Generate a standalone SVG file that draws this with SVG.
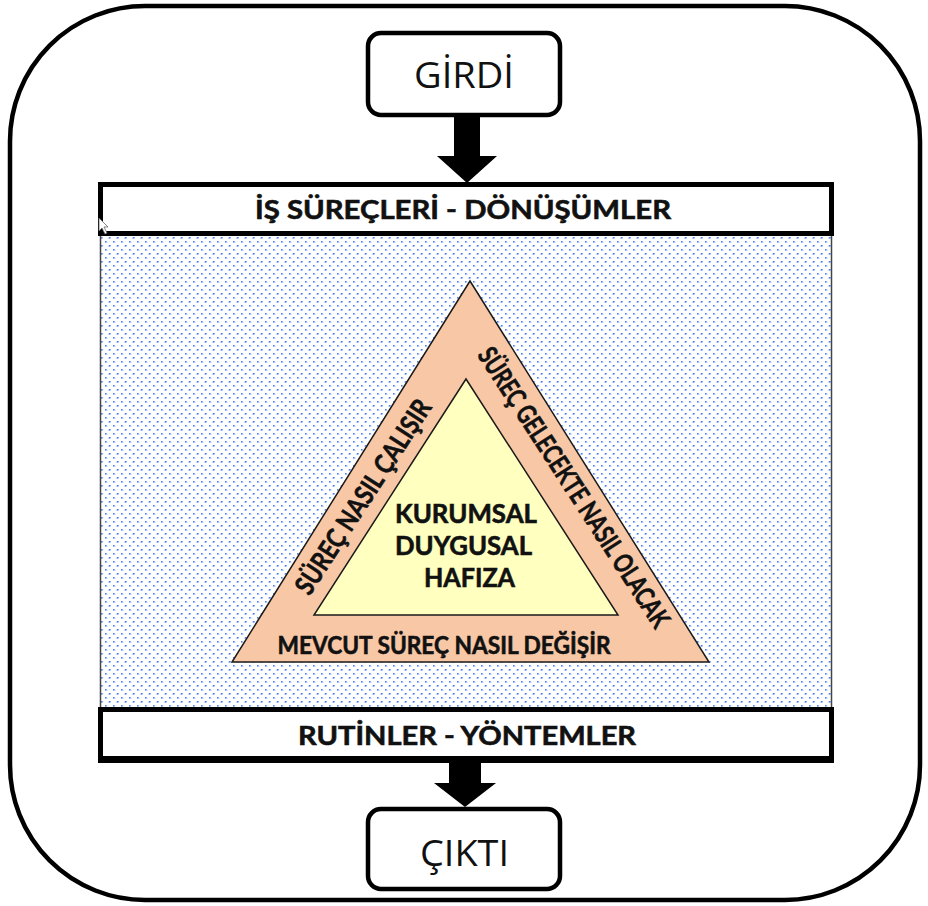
<svg xmlns="http://www.w3.org/2000/svg" width="928" height="906" viewBox="0 0 928 906">
  <style>
    .frame { fill: #ffffff; stroke: #000000; stroke-width: 4.5; }
    .box { fill: #ffffff; stroke: #000000; stroke-width: 4.5; }
    .band { fill: #ffffff; stroke: #000000; stroke-width: 5; }
    .io { font-family: "Open Sans", "Noto Sans", "Liberation Sans", sans-serif; font-size: 36px; fill: #111111; text-anchor: middle; }
    .bold { font-family: Lato, "Open Sans", "Liberation Sans", sans-serif; font-weight: bold; fill: #111111; stroke: #111111; stroke-width: 0.6; }
    .arrow { fill: #000000; }
    .outer { fill: #f8c8a6; stroke: #1a1a1a; stroke-width: 1.5; }
    .inner { fill: #ffffc0; stroke: #1a1a1a; stroke-width: 1.5; }
  </style>
  <defs>
    <pattern id="dots" width="8" height="8" patternUnits="userSpaceOnUse">
      <rect width="8" height="8" fill="#ffffff"/>
      <rect x="1" y="1" width="1.6" height="1.6" fill="#4a80f0"/>
      <rect x="2.6" y="1.6" width="1" height="1" fill="#a2c0f7"/>
      <rect x="5" y="5" width="1.6" height="1.6" fill="#4a80f0"/>
      <rect x="4" y="5.6" width="1" height="1" fill="#a2c0f7"/>
    </pattern>
  </defs>

  <!-- outer rounded frame -->
  <rect class="frame" x="10" y="6" width="910" height="894" rx="135" ry="135"/>

  <!-- connectors -->
  <g id="connectors">
    <path class="arrow" d="M454,114 H480 V156 H497 L467,183 L437,156 H454 Z"/>
    <path class="arrow" d="M449,760 H481 V783 H496 L465,807 L434,783 H449 Z"/>
  </g>

  <g id="girdi">
    <rect class="box" x="368" y="33" width="192" height="82" rx="13" ry="13"/>
    <text class="io" x="464" y="88" textLength="100" lengthAdjust="spacingAndGlyphs">GİRDİ</text>
  </g>

  <g id="process">
    <!-- dotted work area -->
    <rect x="100.5" y="233.5" width="731" height="476" fill="url(#dots)" stroke="#444444" stroke-width="1.5"/>
    <!-- header band -->
    <rect class="band" x="100.5" y="184.5" width="731" height="49"/>
    <text class="bold" x="463" y="219" font-size="27" text-anchor="middle" textLength="416" lengthAdjust="spacingAndGlyphs">İŞ SÜREÇLERİ - DÖNÜŞÜMLER</text>
  </g>

  <g id="pyramid">
    <polygon class="outer" points="470,281 709,662 232,662"/>
    <polygon class="inner" points="466,379 618,615 314,615"/>
    <text class="bold" x="466" y="523" font-size="26" text-anchor="middle" textLength="142" lengthAdjust="spacingAndGlyphs">KURUMSAL</text>
    <text class="bold" x="463.5" y="555" font-size="26" text-anchor="middle" textLength="137" lengthAdjust="spacingAndGlyphs">DUYGUSAL</text>
    <text class="bold" x="469.5" y="587" font-size="26" text-anchor="middle" textLength="91" lengthAdjust="spacingAndGlyphs">HAFIZA</text>
    <text class="bold" x="444" y="654" font-size="24" text-anchor="middle" textLength="333" lengthAdjust="spacingAndGlyphs">MEVCUT SÜREÇ NASIL DEĞİŞİR</text>
    <text class="bold" font-size="27" text-anchor="middle" textLength="226" lengthAdjust="spacingAndGlyphs" transform="translate(371,502) rotate(-57)">SÜREÇ NASIL ÇALIŞIR</text>
    <text class="bold" font-size="27" text-anchor="middle" textLength="328" lengthAdjust="spacingAndGlyphs" transform="translate(566,492.5) rotate(57)">SÜREÇ GELECEKTE NASIL OLACAK</text>
  </g>

  <g id="routines">
    <rect class="band" x="100.5" y="709.5" width="731" height="49"/>
    <rect x="98" y="758" width="736" height="5" fill="#000000"/>
    <text class="bold" x="467" y="745" font-size="27" text-anchor="middle" textLength="338" lengthAdjust="spacingAndGlyphs">RUTİNLER - YÖNTEMLER</text>
  </g>

  <g id="cikti">
    <rect class="box" x="368" y="809" width="192" height="80" rx="13" ry="13"/>
    <text class="io" x="464.5" y="866" textLength="89" lengthAdjust="spacingAndGlyphs">ÇIKTI</text>
  </g>

  <!-- pointer -->
  <path d="M99,218 L99,231 L102,228 L105,234 L107,233 L104,227 L108,227 Z" fill="#ffffff" stroke="#666666" stroke-width="0.8"/>
</svg>
